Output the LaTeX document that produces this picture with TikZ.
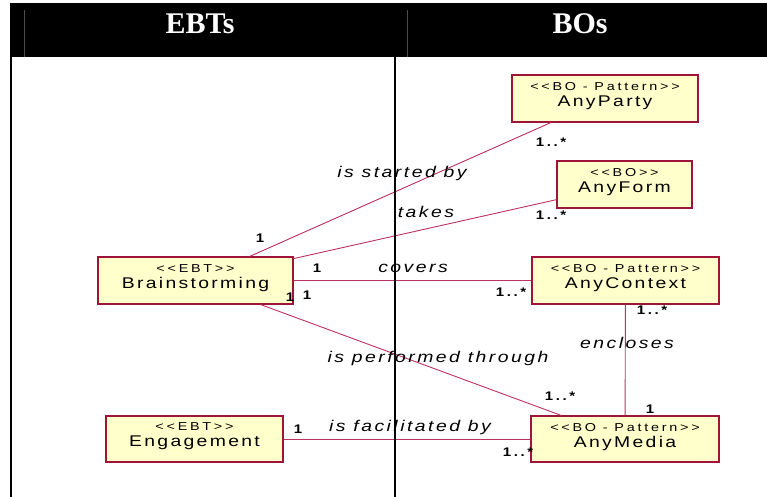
\documentclass[tikz,border=0pt]{standalone}
\usepackage{fontspec}
\setmainfont{Liberation Sans}
\newfontfamily\headfont{Liberation Serif}
\newfontfamily\namefont[FakeStretch=1.25, LetterSpace=15]{Liberation Sans}
\newfontfamily\stereofont[FakeStretch=1.25, LetterSpace=24]{Liberation Sans}
\newfontfamily\rolefont[FakeStretch=1.25, LetterSpace=16]{Liberation Sans}
\newfontfamily\multfont[FakeStretch=1.2, LetterSpace=21]{Liberation Sans}
\definecolor{boxfill}{RGB}{255,255,204}
\definecolor{boxline}{RGB}{160,20,60}
\definecolor{assoc}{RGB}{190,50,95}
\newcommand{\cltext}[2]{{\stereofont\fontsize{11.5}{16}\selectfont #1}\\{\namefont\fontsize{15.5}{16}\selectfont #2\rule[-8pt]{0pt}{0pt}}}

\begin{document}
\begin{tikzpicture}[
    x=1pt, y=-1pt,
    cls/.style={draw=boxline, line width=1.2pt, fill=boxfill, inner sep=0pt,
        align=center, font=\fontsize{10}{16}\selectfont},
    link/.style={draw=assoc, line width=0.9pt},
    role/.style={font=\rolefont\itshape\fontsize{15.5}{17}\selectfont},
    mult/.style={font=\multfont\bfseries\fontsize{12.5}{14}\selectfont},
    head/.style={text=white, font=\headfont\bfseries\fontsize{30}{32}\selectfont}
]
    \useasboundingbox[fill=white] (0,0) rectangle (767,497);

    % Header band
    \fill[black] (10,3) rectangle (767,57);
    \draw[gray!60!black, line width=1pt] (24,10) -- (24,57);
    \draw[gray!60!black, line width=1pt] (407,10) -- (407,57);
    \node[head] (ebts) at (200,24) {EBTs};
    \node[head] (bos) at (580,24) {BOs};

    % Classes (box sizes follow the pixel frame)
    \node[cls, minimum width=186, minimum height=47] (party) at (605,98.5) {\cltext{<<BO - Pattern>>}{AnyParty}};
    \node[cls, minimum width=135, minimum height=47] (form) at (624.5,184.5) {\cltext{<<BO>>}{AnyForm}};
    \node[cls, minimum width=195, minimum height=47] (brain) at (195.5,280.5) {\cltext{<<EBT>>}{Brainstorming}};
    \node[cls, minimum width=187, minimum height=47] (context) at (625.5,280.5) {\cltext{<<BO - Pattern>>}{AnyContext}};
    \node[cls, minimum width=177, minimum height=46] (engage) at (194.5,439) {\cltext{<<EBT>>}{Engagement}};
    \node[cls, minimum width=188, minimum height=46] (media) at (625,439) {\cltext{<<BO - Pattern>>}{AnyMedia}};

    % Associations
    \draw[link] (brain) -- (party);
    \draw[link] (brain) -- (form);
    \draw[link] (brain) -- (context);
    \draw[link] (brain) -- (media);
    \draw[link] (context) -- (media);
    \draw[link] (engage) -- (media);

    % Role names
    \node[role] (rstart) at (402,173) {is started by};
    \node[role] (rtake) at (426,212) {takes};
    \node[role] (rcover) at (413,268) {covers};
    \node[role] (rencl) at (627,343) {encloses};
    \node[role] (rperf) at (438,358) {is performed through};
    \node[role] (rfacil) at (410,427) {is facilitated by};

    % Multiplicities
    \node[mult] (m1) at (260,238) {1};
    \node[mult] (m2) at (551,142) {1..*};
    \node[mult] (m3) at (551,215) {1..*};
    \node[mult] (m4) at (317,268) {1};
    \node[mult] (m5) at (511,292) {1..*};
    \node[mult] (m6) at (290,297) {1};
    \node[mult] (m7) at (307,295) {1};
    \node[mult] (m8) at (652,310) {1..*};
    \node[mult] (m9) at (560,396) {1..*};
    \node[mult] (m10) at (650,409) {1};
    \node[mult] (m11) at (298,429) {1};
    \node[mult] (m12) at (518,452) {1..*};

    % Swimlane lines
    \draw[line width=2pt] (11,57) -- (11,497);
    \draw[line width=2pt] (395,57) -- (395,497);
\end{tikzpicture}
\end{document}
